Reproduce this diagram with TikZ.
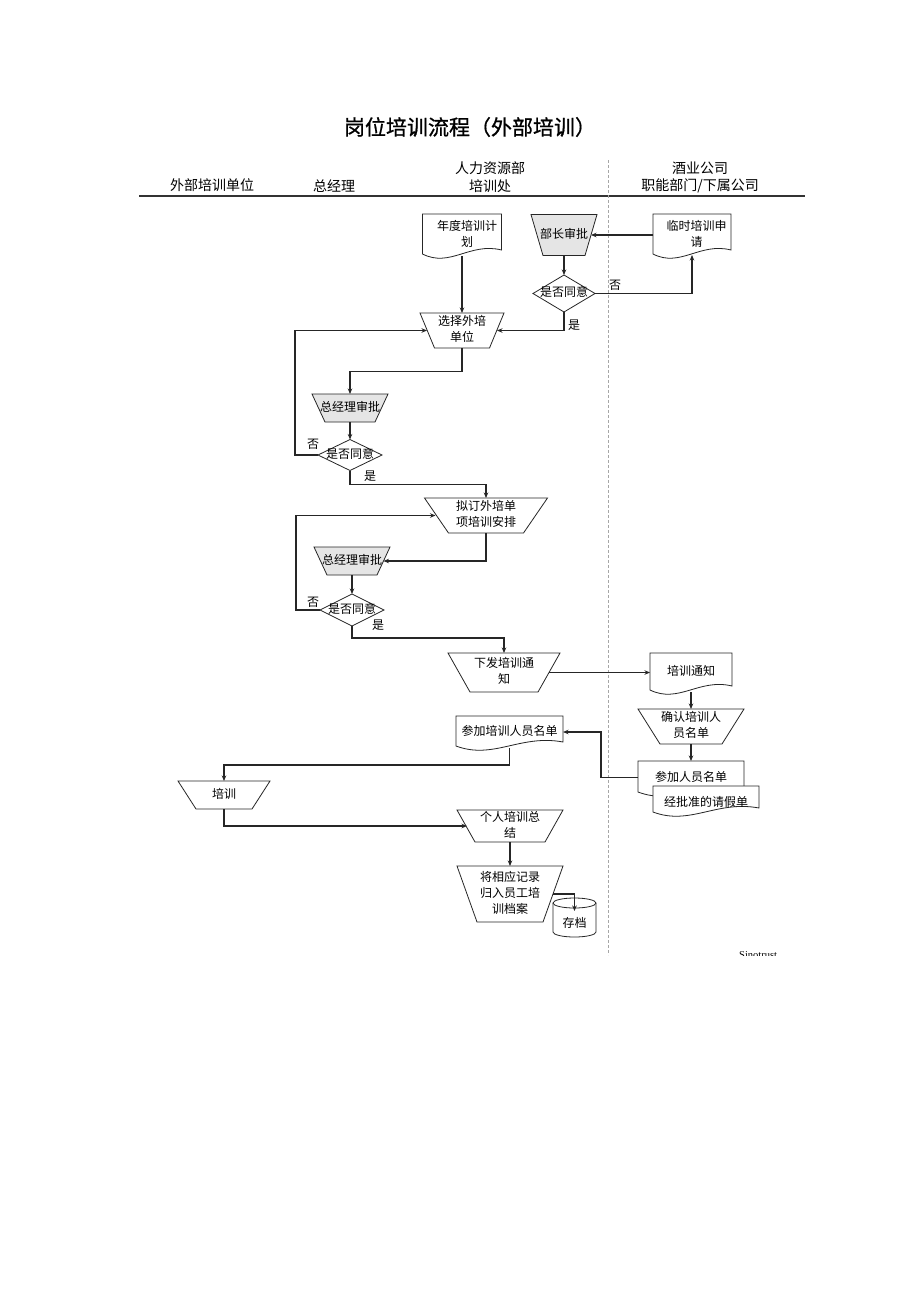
\documentclass[tikz,border=0pt]{standalone}
\usepackage{fontspec}
\setmainfont{Noto Sans CJK SC}
\newfontfamily\serifx{Liberation Serif}
\usetikzlibrary{shapes.geometric,arrows.meta,calc}
\pgfdeclarelayer{bgzero}
\pgfdeclarelayer{background}
\pgfsetlayers{bgzero,background,main}
\newcommand{\zt}[2][0pt]{\makebox[0pt]{\hspace*{#1}\begin{tabular}{@{}c@{}}#2\end{tabular}}}
\newcommand{\docout}[2][white]{%
  \begin{pgfonlayer}{background}
  \draw[shapeline, fill=#1] (#2.north west) -- (#2.north east) -- ([yshift=6pt]#2.south east)
    .. controls ($(#2.south west)!0.6!(#2.south east)+(0pt,14pt)$) and ($(#2.south west)!0.35!(#2.south east)+(0pt,-12pt)$) .. ([yshift=2pt]#2.south west) -- cycle;
  \end{pgfonlayer}}
\newcommand{\trapout}[3][white]{%
  \begin{pgfonlayer}{background}
  \draw[shapeline, fill=#1] (#2.north west) -- (#2.north east) -- ([xshift=-#3]#2.south east) -- ([xshift=#3]#2.south west) -- cycle;
  \end{pgfonlayer}}
\begin{document}
\begin{tikzpicture}[x=1pt,y=-1pt,font=\fontsize{12pt}{16pt}\selectfont,
  shapeline/.style={draw=black!85, line width=0.8pt},
  dia/.style={diamond, draw=black!85, line width=0.8pt, inner sep=0pt, outer sep=0pt, fill=white},
  box/.style={rectangle, inner sep=0pt, outer sep=0pt},
  arr/.style={-{Stealth[length=5.5pt,width=4.5pt]}, line width=1.7pt, draw=black!85},
  lbl/.style={inner sep=0pt},
  hdr/.style={inner sep=0pt, font=\fontsize{14pt}{18pt}\selectfont}]
\begin{pgfonlayer}{bgzero}
\fill[white] (0,0) rectangle (920,1302);
\end{pgfonlayer}
\useasboundingbox (0,0) rectangle (920,1302);

% title and header
\node[inner sep=0pt] (title) at (470,127) {\fontsize{21pt}{25pt}\selectfont\addfontfeature{FakeBold=0.8}岗位培训流程（外部培训）};
\node[hdr] (h1) at (212,185) {外部培训单位};
\node[hdr] (h2) at (334,186) {总经理};
\node[hdr] (h3) at (490,168) {人力资源部};
\node[hdr] (h4) at (490,186) {培训处};
\node[hdr] (h5) at (700,168) {酒业公司};
\node[hdr] (h6) at (700,186) {职能部门/下属公司};
\draw[line width=1.4pt, black!80] (139,196) -- (805,196);
\draw[black!35, dash pattern=on 3pt off 2pt, line width=0.6pt] (608,160) -- (608,955);

% nodes
\node[box, minimum width=79pt, minimum height=42pt] (nd) at (462,235) {\zt[10pt]{年度培训计\\划}};
\docout{nd}
\node[box, minimum width=66pt, minimum height=41pt] (bz) at (564,235) {\zt{部长审批}};
\trapout[black!10]{bz}{12pt}
\node[box, minimum width=78pt, minimum height=42pt] (ls) at (692,235) {\zt[9pt]{临时培训申\\请}};
\docout{ls}
\node[dia, minimum width=62pt, minimum height=37pt] (d0) at (564,293.5) {\zt{是否同意}};
\node[box, minimum width=84pt, minimum height=35pt] (xz) at (462,330.5) {\zt{选择外培\\单位}};
\trapout{xz}{14.5pt}
\node[box, minimum width=76pt, minimum height=28pt] (zj1) at (350,408) {\zt{总经理审批}};
\trapout[black!10]{zj1}{13pt}
\node[dia, minimum width=64pt, minimum height=31pt] (d1) at (350,455) {\zt{是否同意}};
\node[box, minimum width=123pt, minimum height=35pt] (ni) at (486,515.5) {\zt{拟订外培单\\项培训安排}};
\trapout{ni}{24pt}
\node[box, minimum width=76pt, minimum height=28pt] (zj2) at (352,561) {\zt{总经理审批}};
\trapout[black!10]{zj2}{13pt}
\node[dia, minimum width=64pt, minimum height=32pt] (d2) at (352,610) {\zt{是否同意}};
\node[box, minimum width=112pt, minimum height=39pt] (xf) at (504,672.5) {\zt{下发培训通\\知}};
\trapout{xf}{22pt}
\node[box, minimum width=82pt, minimum height=39pt] (tz) at (691,672.5) {\zt{培训通知}};
\docout{tz}
\node[box, minimum width=106pt, minimum height=35pt] (qr) at (691,726.5) {\zt{确认培训人\\员名单}};
\trapout{qr}{22pt}
\node[box, minimum width=106pt, minimum height=33pt] (cj) at (691,777.5) {};
\docout{cj}
\node[lbl] (cjt) at (691,777) {参加人员名单};
\node[box, minimum width=106pt, minimum height=28pt] (pj) at (706,800) {};
\docout{pj}
\node[lbl] (pjt) at (706,802) {经批准的请假单};
\node[box, minimum width=107pt, minimum height=32pt] (px) at (509.5,732) {\zt{参加培训人员名单}};
\docout{px}
\node[box, minimum width=92pt, minimum height=28pt] (pei) at (224,795) {\zt{培训}};
\trapout{pei}{18pt}
\node[box, minimum width=106pt, minimum height=32pt] (gr) at (510,826) {\zt{个人培训总\\结}};
\trapout{gr}{18pt}
\node[box, minimum width=106pt, minimum height=56pt] (jx) at (510,894) {\zt{将相应记录\\归入员工培\\训档案}};
\trapout{jx}{20pt}
\node[box, minimum width=43pt, minimum height=39pt] (cd) at (574.5,917.5) {};
\begin{pgfonlayer}{background}
\draw[shapeline, fill=white] ([yshift=-5pt]cd.north west) -- ([yshift=5pt]cd.south west)
  arc[start angle=180, end angle=360, x radius=21.5pt, y radius=5pt]
  -- ([yshift=-5pt]cd.north east)
  arc[start angle=0, end angle=180, x radius=21.5pt, y radius=5pt] -- cycle;
\draw[shapeline] ([yshift=-5pt]cd.north east) arc[start angle=0, end angle=-180, x radius=21.5pt, y radius=5pt];
\end{pgfonlayer}
\node[lbl] (cdt) at (574.5,923) {存档};

% connectors
\draw[arr] (nd.south) -- (nd.south |- xz.north);
\draw[arr] (ls.west) -- ([xshift=-6pt]bz.east);
\draw[arr] (bz) -- (d0);
\draw[arr] (d0.east) -| ([yshift=1pt]ls.south);
\node[lbl] (n0) at (615,285) {否};
\draw[arr] (d0.south) |- ([xshift=-7pt]xz.east);
\node[lbl] (y0) at (574,325) {是};
\draw[arr] (xz) |- ($(xz)!0.53!(zj1)$) -| (zj1);
\draw[arr] (zj1) -- (d1);
\draw[arr] (d1.west) -- ++(-23,0) |- ([xshift=7pt]xz.west);
\node[lbl] (n1) at (313,444) {否};
\draw[arr] (d1.south) -- ++(0,14) -| (ni);
\node[lbl] (y1) at (370,476) {是};
\draw[arr] (ni) |- ([xshift=-6.5pt]zj2.east);
\draw[arr] (zj2) -- (d2);
\draw[arr] (d2.west) -- ++(-24,0) |- ([xshift=11pt]ni.west);
\node[lbl] (n2) at (313,602) {否};
\draw[arr] (d2.south) -- ++(0,12) -| (xf);
\node[lbl] (y2) at (378,625) {是};
\draw[arr] ([xshift=-11pt]xf.east) -- (tz);
\draw[arr] (tz) -- (qr);
\draw[arr] (qr) -- (cj);
\draw[arr] (cj.west) -- ++(-37,0) |- (px);
\draw[arr] (px.south) -- ++(0,17) -| (pei);
\draw[arr] (pei) |- ([xshift=10pt]gr.west);
\draw[arr] (gr) -- (jx);
\draw[arr] ([xshift=-10pt]jx.east) -| ([yshift=-13pt]cd.north);

% footer fragment
\begin{scope}
\clip (700,940) rectangle (820,955.5);
\node[inner sep=0pt, anchor=base west, font=\serifx\fontsize{10.5pt}{12pt}\selectfont] (st) at (739,958) {Sinotrust};
\end{scope}
\end{tikzpicture}
\end{document}
